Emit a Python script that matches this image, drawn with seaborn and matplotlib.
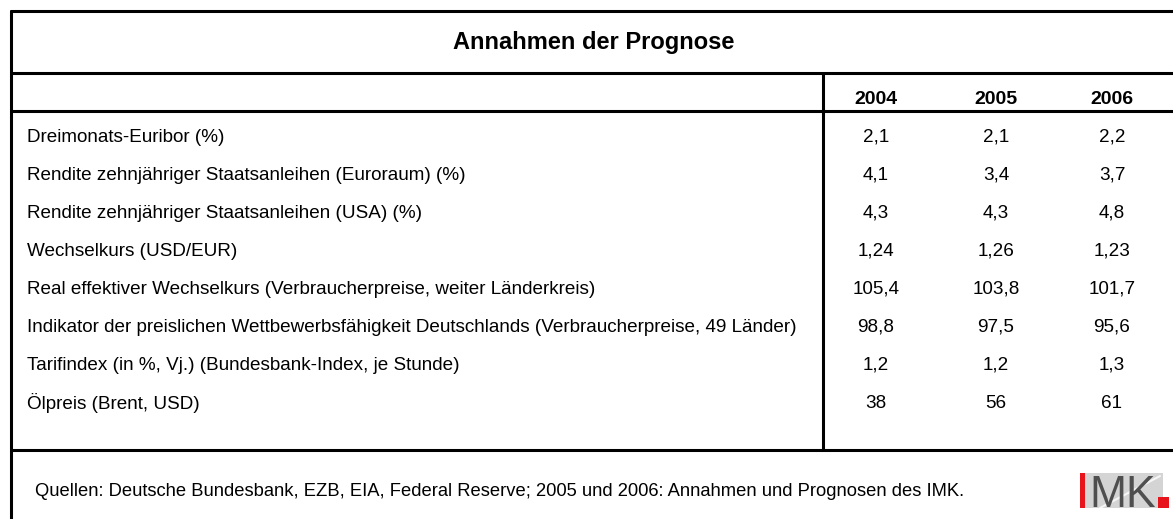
import matplotlib.pyplot as plt
import matplotlib.patches as mpatches
import seaborn as sns

# Table content
title = 'Annahmen der Prognose'
years = ['2004', '2005', '2006']
labels = [
    'Dreimonats-Euribor (%)',
    'Rendite zehnjähriger Staatsanleihen (Euroraum) (%)',
    'Rendite zehnjähriger Staatsanleihen (USA) (%)',
    'Wechselkurs (USD/EUR)',
    'Real effektiver Wechselkurs (Verbraucherpreise, weiter Länderkreis)',
    'Indikator der preislichen Wettbewerbsfähigkeit Deutschlands (Verbraucherpreise, 49 Länder)',
    'Tarifindex (in %, Vj.) (Bundesbank-Index, je Stunde)',
    'Ölpreis (Brent, USD)',
]
values_2004 = ['2,1', '4,1', '4,3', '1,24', '105,4', '98,8', '1,2', '38']
values_2005 = ['2,1', '3,4', '4,3', '1,26', '103,8', '97,5', '1,2', '56']
values_2006 = ['2,2', '3,7', '4,8', '1,23', '101,7', '95,6', '1,3', '61']
source = ('Quellen: Deutsche Bundesbank, EZB, EIA, Federal Reserve; '
          '2005 und 2006: Annahmen und Prognosen des IMK.')

sns.set_style('white')
plt.rcParams['font.family'] = ['Liberation Sans', 'DejaVu Sans']
plt.rcParams['text.color'] = 'black'

W, H = 1173, 519
fig = plt.figure(figsize=(W / 100, H / 100), dpi=100)
ax = fig.add_axes([0, 0, 1, 1])
ax.set_xlim(0, W)
ax.set_ylim(H, 0)
ax.axis('off')

# Frame and grid lines
lw = 2.2
ax.plot([11, 11], [11, H], color='black', lw=lw)
for y in [11, 73, 111, 450]:
    ax.plot([11, W], [y, y], color='black', lw=lw)
ax.plot([823, 823], [73, 450], color='black', lw=lw)

# Title and header
ax.text(594, 42, title, ha='center', va='center', fontsize=17, fontweight='bold')
col_x = [876, 996, 1112]
for x, yr in zip(col_x, years):
    ax.text(x, 99, yr, ha='center', va='center', fontsize=14, fontweight='bold')

# Rows
row_y0, row_step = 137, 38
for i, lab in enumerate(labels):
    y = row_y0 + i * row_step
    ax.text(27, y, lab, ha='left', va='center', fontsize=13.6)
    for x, vals in zip(col_x, [values_2004, values_2005, values_2006]):
        ax.text(x, y, vals[i], ha='center', va='center', fontsize=13.6)

# Footnote
ax.text(35, 491, source, ha='left', va='center', fontsize=13.2)

# IMK logo
ax.add_patch(mpatches.Rectangle((1080, 473), 83, 35, color='#d4d4d4', lw=0))
ax.plot([1100, 1160], [508, 476], color='white', lw=1.5, alpha=0.8)
ax.add_patch(mpatches.Rectangle((1080, 473), 5, 35, color='#e8141b', lw=0))
ax.text(1123, 507, 'MK', ha='center', va='baseline', fontsize=32,
        color='#4f4f4f')
ax.add_patch(mpatches.Rectangle((1158, 497), 11, 11, color='#e8141b', lw=0))

fig.savefig('out.png', dpi=100)
